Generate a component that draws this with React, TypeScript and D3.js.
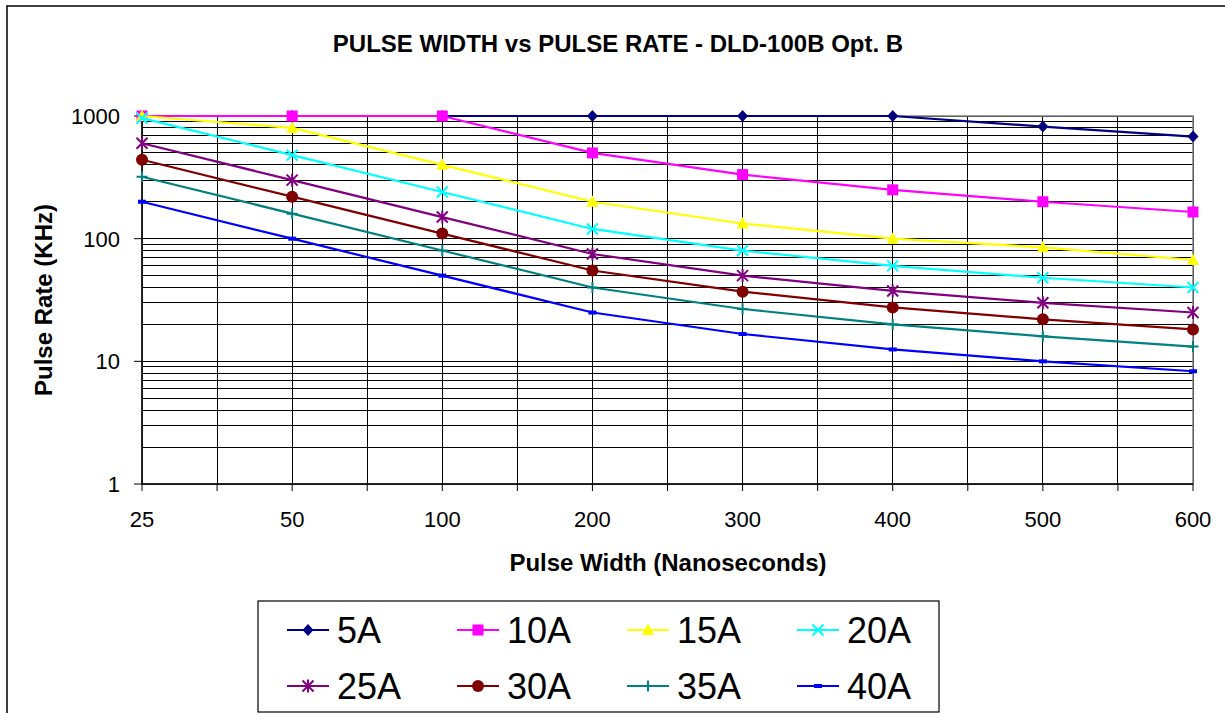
import React from "react";
import * as d3 from "d3";

const widths = ["25", "50", "100", "200", "300", "400", "500", "600"];
const yTicks = [1, 10, 100, 1000];

const s5A = [1000, 1000, 1000, 1000, 1000, 1000, 820, 680];
const s10A = [1000, 1000, 1000, 500, 333, 250, 200, 165];
const s15A = [1000, 800, 400, 200, 133, 100, 85, 67];
const s20A = [960, 480, 240, 120, 80, 60, 48, 40];
const s25A = [600, 300, 150, 75, 50, 37.5, 30, 25];
const s30A = [440, 220, 110, 55, 37, 27.5, 22, 18.2];
const s35A = [320, 160, 80, 40, 26.7, 20, 16, 13.2];
const s40A = [200, 100, 50, 25, 16.7, 12.5, 10, 8.3];

const seriesNames = ["5A", "10A", "15A", "20A", "25A", "30A", "35A", "40A"];
const seriesValues = [s5A, s10A, s15A, s20A, s25A, s30A, s35A, s40A];
const seriesColors = ["#000080", "#FF00FF", "#FFFF00", "#00FFFF", "#800080", "#800000", "#008080", "#0000FF"];
const seriesMarkers = ["diamond", "square", "triangle", "x", "star", "circle", "plus", "dash"];

const FONT = "'Liberation Sans', Arial, Helvetica, sans-serif";

function Marker({ type, x, y, color }: { type: string; x: number; y: number; color: string }) {
  const s = 5.5;
  switch (type) {
    case "diamond":
      return <path d={`M${x},${y - s - 0.5}L${x + s},${y}L${x},${y + s + 0.5}L${x - s},${y}Z`} fill={color} />;
    case "square":
      return <rect x={x - s} y={y - s} width={2 * s} height={2 * s} fill={color} />;
    case "triangle":
      return <path d={`M${x},${y - s - 1}L${x + s + 0.5},${y + s - 0.5}L${x - s - 0.5},${y + s - 0.5}Z`} fill={color} />;
    case "x":
      return (
        <path d={`M${x - s},${y - s}L${x + s},${y + s}M${x - s},${y + s}L${x + s},${y - s}`} stroke={color} strokeWidth={2} />
      );
    case "star":
      return (
        <path
          d={`M${x - s},${y - s}L${x + s},${y + s}M${x - s},${y + s}L${x + s},${y - s}M${x},${y - s - 1}L${x},${y + s + 1}`}
          stroke={color}
          strokeWidth={2}
        />
      );
    case "circle":
      return <circle cx={x} cy={y} r={s + 0.5} fill={color} />;
    case "plus":
      return <path d={`M${x},${y - s}L${x},${y + s}M${x - s},${y}L${x + s},${y}`} stroke={color} strokeWidth={2} />;
    case "dash":
      return <rect x={x - 4} y={y - 2} width={8} height={4} fill={color} />;
    default:
      return null;
  }
}

export default function App() {
  const W = 1225;
  const H = 713;
  const left = 142;
  const right = 1193;
  const top = 116;
  const bottom = 484;

  const x = d3.scalePoint<string>().domain(widths).range([left, right]);
  const y = d3.scaleLog().domain([1, 1000]).range([bottom, top]);
  const step = x.step();

  const vGrid: number[] = [];
  for (let i = 0; i <= (widths.length - 1) * 2; i++) vGrid.push(left + (i * step) / 2);

  const hGrid: number[] = [];
  for (let d = 1; d < 1000; d *= 10) {
    for (let m = 1; m <= 10; m++) hGrid.push(d * m);
  }

  const line = d3
    .line<number>()
    .x((_, i) => x(widths[i]) as number)
    .y((v) => y(v));

  const legendLeft = 258;
  const legendTop = 601;
  const legendRight = 939;
  const legendBottom = 712;
  const colStep = 170;
  const rowY = [630, 686];

  return (
    <svg width={W} height={H} style={{ position: "absolute", left: 0, top: 0 }} fontFamily={FONT}>
      <rect x={0} y={0} width={W} height={H} fill="#fff" />
      <rect x={7} y={6} width={1240} height={740} fill="#fff" stroke="#000" strokeWidth={1.5} />

      <text x={618} y={52} textAnchor="middle" fontSize={24} fontWeight="bold">
        PULSE WIDTH vs PULSE RATE - DLD-100B Opt. B
      </text>

      {/* horizontal gridlines */}
      {hGrid.map((v, i) => (
        <line key={"h" + i} x1={left} x2={right} y1={y(v)} y2={y(v)} stroke="#000" strokeWidth={1} shapeRendering="crispEdges" />
      ))}
      {/* vertical gridlines */}
      {vGrid.map((gx, i) => (
        <line key={"v" + i} x1={gx} x2={gx} y1={top} y2={bottom} stroke="#000" strokeWidth={1} shapeRendering="crispEdges" />
      ))}
      <rect x={left} y={top} width={right - left} height={bottom - top} fill="none" stroke="#808080" strokeWidth={1.5} />

      {/* axes */}
      <line x1={left} x2={left} y1={top} y2={bottom} stroke="#000" strokeWidth={1.5} />
      <line x1={left} x2={right} y1={bottom} y2={bottom} stroke="#000" strokeWidth={1.5} />
      {yTicks.map((t) => (
        <g key={"yt" + t}>
          <line x1={left - 8} x2={left} y1={y(t)} y2={y(t)} stroke="#000" strokeWidth={1} />
          <text x={120} y={y(t) + 8} textAnchor="end" fontSize={22}>
            {t}
          </text>
        </g>
      ))}
      {vGrid.map((gx, i) => (
        <line key={"xt" + i} x1={gx} x2={gx} y1={bottom} y2={bottom + 7} stroke="#000" strokeWidth={1} />
      ))}
      {widths.map((w) => (
        <text key={"xl" + w} x={x(w)} y={527} textAnchor="middle" fontSize={22}>
          {w}
        </text>
      ))}

      <text x={668} y={571} textAnchor="middle" fontSize={24} fontWeight="bold">
        Pulse Width (Nanoseconds)
      </text>
      <text transform={`translate(52,300) rotate(-90)`} textAnchor="middle" fontSize={24} fontWeight="bold">
        Pulse Rate (KHz)
      </text>

      {/* series */}
      {seriesValues.map((vals, si) => (
        <g key={"s" + si}>
          <path d={line(vals) || ""} fill="none" stroke={seriesColors[si]} strokeWidth={2.2} />
          {vals.map((v, i) => (
            <Marker key={i} type={seriesMarkers[si]} x={x(widths[i]) as number} y={y(v)} color={seriesColors[si]} />
          ))}
        </g>
      ))}

      {/* legend */}
      <rect x={legendLeft} y={legendTop} width={legendRight - legendLeft} height={legendBottom - legendTop} fill="#fff" stroke="#000" strokeWidth={1.2} />
      {seriesNames.map((name, i) => {
        const col = i % 4;
        const row = Math.floor(i / 4);
        const lx = 287 + col * colStep;
        const ly = rowY[row];
        return (
          <g key={"lg" + i}>
            <line x1={lx} x2={lx + 42} y1={ly} y2={ly} stroke={seriesColors[i]} strokeWidth={2.2} />
            <Marker type={seriesMarkers[i]} x={lx + 21} y={ly} color={seriesColors[i]} />
            <text x={lx + 50} y={ly + 13} fontSize={36}>
              {name}
            </text>
          </g>
        );
      })}
    </svg>
  );
}
